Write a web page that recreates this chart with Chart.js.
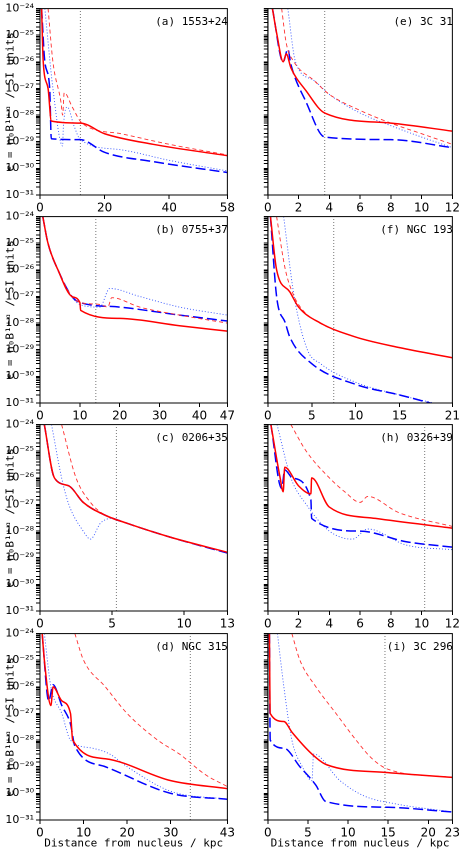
<!DOCTYPE html>
<html><head><meta charset="utf-8">
<script src="https://cdn.jsdelivr.net/npm/chart.js@4/dist/chart.umd.min.js"></script>
<style>
body{margin:0;background:#fff;width:463px;height:865px;position:relative;overflow:hidden;font-family:"DejaVu Sans",sans-serif}
canvas{position:absolute}
.lbl{position:absolute;font-size:12px;color:#000;font-family:"DejaVu Sans",sans-serif}
</style></head><body>
<script>
// ---- data: [distance kpc, emissivity] ----
const aRedSolid=[[0.5,1e-24],[1,1e-26],[2.5,1e-27],[3.5,6e-29],[12.5,5e-29],[20,2e-29],[35,8e-30],[58,3e-30]];
const aRedDash=[[2.5,1e-24],[4,1e-26],[6.5,3e-28],[7,1e-28],[7.5,7e-28],[10,2e-28],[13,5e-29],[25,2e-29],[40,8e-30],[58,3.2e-30]];
const aBlueDash=[[0.5,1e-24],[1.5,1e-26],[3,1e-27],[3.5,1.3e-29],[12.5,1.2e-29],[20,4e-30],[35,1.8e-30],[58,7e-31]];
const aBlueDot=[[1.5,1e-24],[4,1e-27],[7,7e-30],[7.2,3e-29],[8.5,2e-28],[10.5,4e-29],[12.5,1.2e-29],[25,5e-30],[40,2e-30],[58,8e-31]];
const aVline=12.5;

const eRedSolid=[[0.3,1e-24],[0.6,1e-25],[1,1e-26],[1.2,2e-26],[1.5,6e-27],[2.5,8e-28],[3.7,1.2e-28],[8,5e-29],[12,2.5e-29]];
const eRedDash=[[0.9,1e-24],[1.2,5e-26],[1.7,1e-26],[3,2e-27],[4,6e-28],[6,1.5e-28],[8,5e-29],[10,2e-29],[12,8e-30]];
const eBlueDash=[[0.3,1e-24],[1,1e-26],[1.3,3e-26],[1.5,8e-27],[2.5,3e-28],[3.7,1.5e-29],[8,1.2e-29],[12,6e-30]];
const eBlueDot=[[1.3,1e-24],[1.8,1e-26],[3,2e-27],[4,6e-28],[6,1.2e-28],[8,4e-29],[10,1.5e-29],[12,6e-30]];
const eVline=3.7;

const bRedSolid=[[0.7,1e-24],[2,1e-25],[4.5,1e-26],[8,1e-27],[10,6e-28],[10.2,3e-28],[20,1.5e-28],[35,8e-29],[47,5e-29]];
const bRedDash=[[0.7,1e-24],[2,1e-25],[4.5,1e-26],[8,1e-27],[10,6e-28],[15,5e-28],[17,4e-28],[18,9e-28],[25,4e-28],[35,2e-28],[47,1e-28]];
const bBlueDash=[[0.7,1e-24],[2,1e-25],[4.5,1e-26],[8,1e-27],[10,6e-28],[20,4e-28],[35,2e-28],[47,1.2e-28]];
const bBlueDot=[[0.7,1e-24],[2,1e-25],[4.5,1e-26],[8,1e-27],[10,5e-28],[15,4e-28],[17.5,2e-27],[25,1e-27],[35,4e-28],[47,2e-28]];
const bVline=14;

const fRedSolid=[[0.3,1e-24],[1,1e-26],[2.5,1.5e-27],[3.5,4e-28],[6,1e-28],[10,3e-29],[15,1.2e-29],[21,5e-30]];
const fRedDash=[[1,1e-24],[2,1e-26],[3,1e-27],[4,3e-28],[5.5,1.2e-28],[10,3e-29],[15,1.2e-29],[21,5e-30]];
const fBlueDash=[[0.3,1e-24],[1,1e-27],[2,1e-28],[2.5,3e-29],[5,3e-30],[10,5e-31],[15,2e-31],[21,6e-32]];
const fBlueDot=[[1.8,1e-24],[3,1e-27],[4.5,1e-29],[6,3e-30],[10,6e-31],[15,2e-31],[21,7e-32]];
const fVline=7.5;

const cRedSolid=[[0.3,1e-24],[1,1e-26],[2,5e-27],[3,1.2e-27],[4.5,4e-28],[6,2e-28],[9,6e-29],[13,1.6e-29]];
const cRedDash=[[1.5,1e-24],[2.5,1e-26],[3.5,1.2e-27],[4.5,4e-28],[6,2e-28],[9,6e-29],[13,1.6e-29]];
const cBlueDash=[[0.3,1e-24],[1,1e-26],[2,5e-27],[3,1.2e-27],[4.5,4e-28],[6,2e-28],[9,6e-29],[13,1.5e-29]];
const cBlueDot=[[0.8,1e-24],[1.5,1e-26],[2,1e-27],[3,1e-28],[3.5,5e-29],[4.2,2e-28],[5,3e-28],[6,2e-28],[9,6e-29],[13,1.5e-29]];
const cVline=5.3;

const hRedSolid=[[0.2,1e-24],[0.8,1e-26],[1,3e-27],[1.1,2.5e-26],[2,5e-27],[2.8,2.5e-27],[2.85,1e-26],[4,8e-28],[7,3e-28],[12,1.3e-28]];
const hRedDash=[[1.5,1e-24],[2.5,1e-25],[4,1e-26],[5,3e-27],[6,1.2e-27],[6.5,2e-27],[8.5,5e-28],[12,1.5e-28]];
const hBlueDash=[[0.2,1e-24],[0.9,4e-27],[1.1,2e-26],[1.6,1e-26],[2.8,1.5e-27],[2.85,3e-28],[6,1e-28],[9,4e-29],[12,2.5e-29]];
const hBlueDot=[[0.6,1e-24],[1.5,1e-26],[2.5,1e-27],[4,1e-28],[5.5,5e-29],[6.5,1.2e-28],[9,3e-29],[12,2e-29]];
const hVline=10.2;

const dRedSolid=[[0.5,1e-24],[1,1e-25],[2.5,2e-27],[3,1e-26],[5,3e-27],[7,1e-27],[7.5,1e-28],[15,2e-29],[30,3e-30],[43,1.5e-30]];
const dRedDash=[[8,1e-24],[10,1e-25],[15,1e-26],[20,1e-27],[27,1e-28],[32,3e-29],[38,5e-30],[43,1.8e-30]];
const dBlueDash=[[0.5,1e-24],[2,3e-27],[3,1.2e-26],[5,2e-27],[7,4e-28],[8,6e-29],[15,1e-29],[30,1e-30],[43,6e-31]];
const dBlueDot=[[1,1e-24],[2.5,1e-26],[5,1e-27],[7,1e-28],[12,5e-29],[16,3e-29],[20,1e-29],[30,1.2e-30],[43,6e-31]];
const dVline=34.5;

const iRedSolid=[[0.2,1e-24],[0.3,1e-27],[2,5e-28],[3,2e-28],[5.5,3e-29],[7.3,1.2e-29],[15,6e-30],[23,4e-30]];
const iRedDash=[[3,1e-24],[4,1e-25],[6,1e-26],[8.5,1e-27],[11,1e-28],[13,2e-29],[15,8e-30],[23,4e-30]];
const iBlueDash=[[0.2,1e-24],[0.3,1e-28],[2,5e-29],[4,1e-29],[6,2e-30],[7.2,5e-31],[15,3e-31],[23,2e-31]];
const iBlueDot=[[1.2,1e-24],[2,1e-26],[3,1e-28],[4.3,1e-29],[5.5,3e-30],[5.7,3e-29],[9,3e-30],[12,8e-31],[16,4e-31],[23,2e-31]];
const iVline=14.6;

const panels=[
 {name:'(a) 1553+24',max:58,step:20,s:[aRedSolid,aRedDash,aBlueDash,aBlueDot],v:aVline,col:0,row:0},
 {name:'(e) 3C 31',max:12,step:2,s:[eRedSolid,eRedDash,eBlueDash,eBlueDot],v:eVline,col:1,row:0},
 {name:'(b) 0755+37',max:47,step:10,s:[bRedSolid,bRedDash,bBlueDash,bBlueDot],v:bVline,col:0,row:1},
 {name:'(f) NGC 193',max:21,step:5,s:[fRedSolid,fRedDash,fBlueDash,fBlueDot],v:fVline,col:1,row:1},
 {name:'(c) 0206+35',max:13,step:5,s:[cRedSolid,cRedDash,cBlueDash,cBlueDot],v:cVline,col:0,row:2},
 {name:'(h) 0326+39',max:12,step:2,s:[hRedSolid,hRedDash,hBlueDash,hBlueDot],v:hVline,col:1,row:2},
 {name:'(d) NGC 315',max:43,step:10,s:[dRedSolid,dRedDash,dBlueDash,dBlueDot],v:dVline,col:0,row:3},
 {name:'(i) 3C 296',max:23,step:5,s:[iRedSolid,iRedDash,iBlueDash,iBlueDot],v:iVline,col:1,row:3}
];
const styles=[
 {c:'#ff0000',w:1.5,d:[]},
 {c:'#ff3030',w:0.9,d:[4,3]},
 {c:'#0000ff',w:1.5,d:[10,4]},
 {c:'#3050ff',w:0.9,d:[1,2]}
];
const supers={'-':'⁻','0':'⁰','1':'¹','2':'²','3':'³','4':'⁴','5':'⁵','6':'⁶','7':'⁷','8':'⁸','9':'⁹'};
function sup(n){return String(n).split('').map(c=>supers[c]).join('');}
const rowTops=[5,213,421,630];
const PH=190;
const frame={id:'frame',afterDraw(ch){const a=ch.chartArea,x=ch.ctx;x.save();x.strokeStyle='#000';x.lineWidth=1;x.strokeRect(a.left,a.top,a.right-a.left,a.bottom-a.top);x.restore();}};

panels.forEach(p=>{
  const left=p.col===0;
  const bottom=p.row===3;
  const cv=document.createElement('canvas');
  const cx=left?0:262, cw=left?237:200;
  const ct=rowTops[p.row]-5, chh=PH+5+(bottom?34:20);
  cv.style.left=cx+'px';cv.style.top=ct+'px';
  cv.width=cw;cv.height=chh;
  document.body.appendChild(cv);
  const ds=p.s.map((arr,k)=>({data:arr.map(q=>({x:q[0],y:q[1]})),borderColor:styles[k].c,borderWidth:styles[k].w,borderDash:styles[k].d,pointRadius:0,fill:false,cubicInterpolationMode:'monotone'}));
  ds.push({data:[{x:p.v,y:1e-31},{x:p.v,y:1e-24}],borderColor:'#777',borderWidth:1,borderDash:[1,2],pointRadius:0});
  new Chart(cv,{type:'line',data:{datasets:ds},plugins:[frame],
    options:{responsive:false,devicePixelRatio:2,animation:false,
      layout:{padding:{top:5,right:left?2:3,left:0,bottom:0}},
      plugins:{legend:{display:false},tooltip:{enabled:false}},
      scales:{
        x:{type:'linear',min:0,max:p.max,
          ticks:{stepSize:p.step,font:{size:12,family:'DejaVu Sans'},color:'#000',maxRotation:0,padding:2},
          grid:{drawOnChartArea:false,tickLength:4,color:'#000'},border:{color:'#000'},
          title:{display:bottom,text:'Distance from nucleus / kpc',font:{size:11,family:'DejaVu Sans Mono'},color:'#000',padding:{top:0}},
          afterFit(s){s.height=bottom?34:20;}},
        y:{type:'logarithmic',min:1e-31,max:1e-24,
          ticks:{autoSkip:false,font:{size:11,family:'DejaVu Sans'},color:'#000',padding:2,
            callback(v){const e=Math.log10(v);if(Math.abs(e-Math.round(e))<1e-6&&left)return '10'+sup(Math.round(e));return '';}},
          grid:{drawOnChartArea:false,tickLength:4,color:'#000'},border:{color:'#000'},
          title:{display:left,text:'ε = n₀B¹⁺ᵅ / SI units',font:{size:11,family:'DejaVu Sans Mono'},color:'#000',padding:{bottom:0}},
          afterFit(s){s.width=left?40:5;}}
      }}});
  const l=document.createElement('div');l.className='lbl';l.textContent=p.name;
  l.style.top=(rowTops[p.row]+10)+'px';
  l.style.right=(left?463-228:10)+'px';
  l.style.fontFamily='"DejaVu Sans Mono",monospace';l.style.fontSize='11px';
  document.body.appendChild(l);
});
</script>
</body></html>
